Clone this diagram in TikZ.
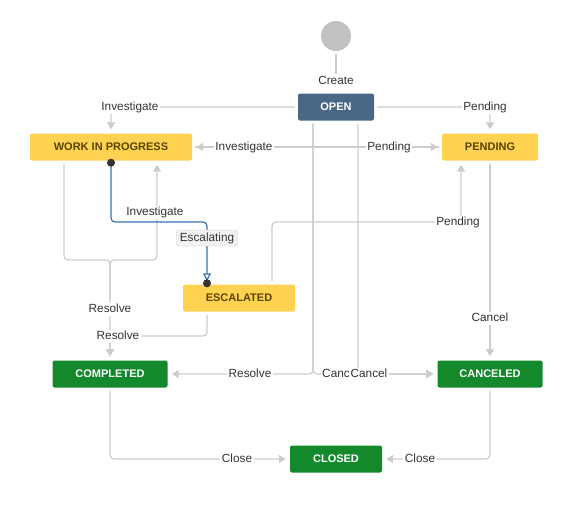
\documentclass[tikz,border=0pt]{standalone}
\usepackage{fontspec}
\setmainfont{Liberation Sans}
\usetikzlibrary{arrows.meta,backgrounds,calc}
\definecolor{cyellow}{HTML}{FFD351}
\definecolor{cytext}{HTML}{594300}
\definecolor{cblue}{HTML}{4A6785}
\definecolor{cgreen}{HTML}{14892C}
\definecolor{cline}{HTML}{CCCCCC}
\definecolor{ccircle}{HTML}{C1C1C1}
\definecolor{ctext}{HTML}{333333}
\definecolor{cblueline}{HTML}{3572B0}
\definecolor{cescfill}{HTML}{F2F2F2}
\begin{document}
\begin{tikzpicture}[x=1pt,y=-1pt,
  state/.style={rounded corners=2pt,minimum height=27pt,inner sep=0pt,font=\fontsize{11}{13}\selectfont\bfseries},
  yel/.style={state,fill=cyellow,text=cytext},
  blu/.style={state,fill=cblue,text=white},
  grn/.style={state,fill=cgreen,text=white},
  lbl/.style={fill=white,inner sep=1.5pt,text=ctext,text height=8.5pt,text depth=1.5pt,font=\fontsize{11.8}{13}\selectfont},
  esclbl/.style={fill=cescfill,draw=cline,rounded corners=3pt,inner xsep=3.5pt,inner ysep=3pt,text=ctext,text height=8.5pt,text depth=1.5pt,font=\fontsize{11.8}{13}\selectfont},
  conn/.style={draw=cline,line width=1.2pt,rounded corners=4pt,shorten <=3pt},
  arr/.style={conn,-{Triangle[width=8pt,length=7pt]},shorten >=4pt},
  bconn/.style={draw=cblueline,line width=1.2pt,rounded corners=4pt,-{Triangle[open,width=8pt,length=8pt]},shorten >=3pt},
  dot/.style={circle,fill=black!80,minimum size=8pt,inner sep=0pt}
]
\useasboundingbox (0,0) rectangle (561,507);

% states
\node[circle,fill=ccircle,minimum size=30pt,inner sep=0pt] (start) at (336,36) {};
\node[blu,minimum width=76pt] (open) at (336,107) {OPEN};
\node[yel,minimum width=162pt] (wip) at (111,147) {WORK IN PROGRESS};
\node[yel,minimum width=96pt] (pending) at (490,147) {PENDING};
\node[yel,minimum width=112pt] (esc) at (239,298) {ESCALATED};
\node[grn,minimum width=115pt] (completed) at (110,374) {COMPLETED};
\node[grn,minimum width=105pt] (canceled) at (490,374) {CANCELED};
\node[grn,minimum width=92pt] (closed) at (336,459) {CLOSED};

% labels
\node[lbl] (lCreate) at (336,81) {Create};
\node[lbl] (lInv1) at (130,107) {Investigate};
\node[lbl] (lPend1) at (485,107) {Pending};
\node[lbl] (lInv2) at (244,147) {Investigate};
\node[lbl] (lPend2) at (389,147) {Pending};
\node[lbl] (lInv3) at (155,212) {Investigate};
\node[esclbl] (lEsc) at (207,238) {Escalating};
\node[lbl] (lPend3) at (458,222) {Pending};
\node[lbl] (lCancel1) at (490,318) {Cancel};
\node[lbl] (lRes1) at (110,309) {Resolve};
\node[lbl] (lRes2) at (118,336) {Resolve};
\node[lbl] (lRes3) at (250,374) {Resolve};
\node[lbl] (lCanc) at (336,374) {Canc};
\node[lbl] (lCancel2) at (369,374) {Cancel};
\node[lbl] (lClose1) at (237,459) {Close};
\node[lbl] (lClose2) at (420,459) {Close};

% anchor points
\coordinate (oR) at ($(open.south)+(-23,0)$);
\coordinate (oC) at ($(open.south)+(22,0)$);
\coordinate (eP) at ($(esc.north)+(33,0)$);
\coordinate (pP) at ($(pending.south)+(-29,0)$);
\coordinate (wL) at ($(wip.south)+(-47,0)$);
\coordinate (wR) at ($(wip.south)+(46,0)$);
\coordinate (eS) at ($(esc.south)+(-32,0)$);
\coordinate (eN) at ($(esc.north)+(-32,0)$);

\begin{scope}[on background layer]
  \draw[conn] (start) -- (lCreate);
  \draw[arr] (open.west) -| (wip.north);
  \draw[arr] (open.east) -| (pending.north);
  \draw[arr] (pending.west) -- (wip.east);
  \draw[arr] (wip.east) -- (pending.west);
  \draw[arr] (oR) |- (completed.east);
  \draw[arr] (oR) |- (canceled.west);
  \draw[arr] (oC) |- (canceled.west);
  \draw[arr] (pending.south) -- (canceled.north);
  \draw[arr] (eP) -- (eP |- lPend3) -| (pP);
  \draw[arr] (wL) -- (wL |- 0,260) -| (completed.north);
  \draw[arr] (lRes1.north) -- (lRes1.north |- 0,260) -| (wR);
  \draw[arr] (eS) -- (eS |- lRes2) -- (completed.north |- lRes2) -- (completed.north);
  \draw[bconn] (wip.south) -- (wip.south |- 0,222) -| (eN);
  \draw[arr] (completed.south) |- (closed.west);
  \draw[arr] (canceled.south) |- (closed.east);
\end{scope}

\node[dot] (d1) at ($(wip.south)+(0,2)$) {};
\node[dot] (d2) at ($(eN)+(0,-1)$) {};
\end{tikzpicture}
\end{document}
